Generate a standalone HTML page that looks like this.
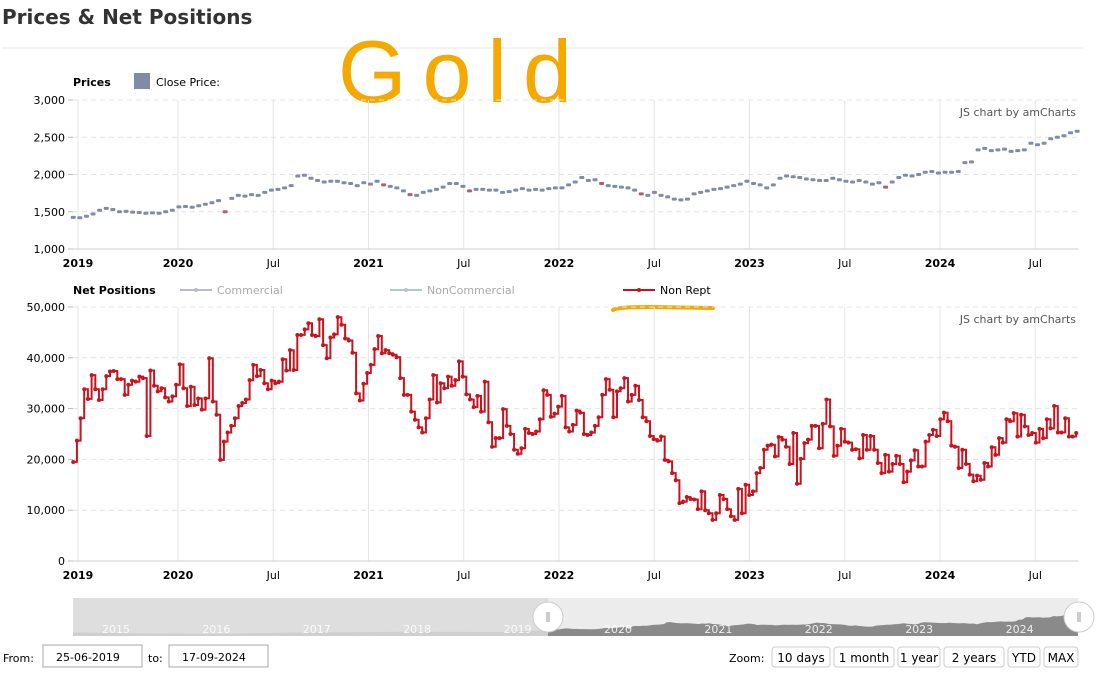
<!DOCTYPE html>
<html><head><meta charset="utf-8"><style>
body{margin:0;background:#fff;font-family:"Liberation Sans","DejaVu Sans",sans-serif;}
svg{display:block}
.t{font-family:"DejaVu Sans","Liberation Sans",sans-serif;font-size:11px;fill:#000}
.b{font-weight:bold}
</style></head><body>
<svg id="s" width="1096" height="673" viewBox="0 0 1096 673" xmlns="http://www.w3.org/2000/svg">
<text x="2" y="24" font-family="DejaVu Sans, Liberation Sans, sans-serif" font-weight="bold" font-size="20" fill="#333">Prices &amp; Net Positions</text>
<line x1="2" y1="48" x2="1084" y2="48" stroke="#e8e8e8"/>
<text x="338" y="102" font-family="Liberation Sans, sans-serif" font-size="88" fill="#f5a800" letter-spacing="16">Gold</text>
<text class="t b" x="73" y="86">Prices</text>
<rect x="134" y="73" width="16" height="16" fill="#7f8ba7"/>
<text class="t" x="156" y="86">Close Price:</text>
<g id="topg"></g>
<text class="t b" x="73" y="294">Net Positions</text>
<g><line x1="180" y1="290" x2="212" y2="290" stroke="#b7bcc6" stroke-width="2"/><circle cx="196" cy="290" r="2" fill="#b7bcc6"/><text class="t" x="217" y="294" style="fill:#aaa">Commercial</text></g>
<g><line x1="390" y1="290" x2="422" y2="290" stroke="#b7c6c6" stroke-width="2"/><circle cx="406" cy="290" r="2" fill="#b7c6c6"/><text class="t" x="427" y="294" style="fill:#aaa">NonCommercial</text></g>
<g><line x1="623" y1="290" x2="655" y2="290" stroke="#c0141e" stroke-width="2"/><circle cx="639" cy="290" r="2" fill="#c0141e"/><text class="t" x="660" y="294">Non Rept</text></g>
<path d="M613 310 Q618 307 650 307 L713 308" stroke="#f5a800" stroke-width="4" fill="none" stroke-linecap="round"/>
<g id="botg"></g>
<g id="scroll"></g>
<text class="t" x="3" y="662" font-size="12">From:</text>
<rect x="43" y="645" width="99" height="22" fill="#fff" stroke="#aaa"/>
<text class="t" x="56" y="661" font-size="12">25-06-2019</text>
<text class="t" x="148" y="662" font-size="12">to:</text>
<rect x="169" y="645" width="99" height="22" fill="#fff" stroke="#aaa"/>
<text class="t" x="182" y="661" font-size="12">17-09-2024</text>
<text class="t" x="729" y="662" font-size="12">Zoom:</text>
<g id="btns"></g>
</svg>
<script>
// ---- data ----
const yearLabels=["2019","2020","Jul","2021","Jul","2022","Jul","2023","Jul","2024","Jul"];
const yearTickDates=[2019.475,2020,2020.5,2021,2021.5,2022,2022.5,2023,2023.5,2024,2024.5];
const boldTick=[1,1,0,1,0,1,0,1,0,1,0];
const priceTicks=[1000,1500,2000,2500,3000];
const netTicks=[0,10000,20000,30000,40000,50000];
const priceStart=2019.45, priceEnd=2024.72;
const closePrice=[1425,1420,1440,1470,1520,1545,1530,1500,1505,1495,1490,1480,1485,1480,1500,1520,1565,1570,1560,1580,1600,1620,1650,1500,1680,1720,1710,1730,1720,1760,1790,1800,1820,1850,1980,1990,1950,1920,1900,1910,1910,1890,1880,1850,1890,1870,1910,1860,1840,1820,1780,1730,1720,1760,1780,1800,1830,1880,1880,1840,1780,1800,1800,1790,1790,1760,1770,1790,1810,1790,1800,1790,1810,1820,1820,1860,1900,1960,1920,1930,1880,1850,1840,1830,1820,1790,1740,1720,1760,1720,1700,1670,1660,1670,1740,1760,1780,1800,1810,1830,1850,1870,1910,1880,1860,1820,1860,1950,1980,1970,1960,1940,1930,1920,1920,1950,1930,1910,1900,1920,1900,1870,1890,1830,1900,1960,1990,1980,2000,2030,2040,2020,2030,2030,2040,2160,2170,2330,2350,2320,2330,2340,2310,2320,2330,2420,2400,2420,2480,2500,2520,2560,2580];
const netStart=2019.45, netEnd=2024.715;
const nonRept=[19.5,23.7,28.1,33.8,31.9,36.6,33.8,31.7,33.8,36.4,37.3,37.4,35.8,35.8,32.7,34.7,35.5,35.3,36.3,36.0,24.6,37.5,34.5,33.4,34.0,32.2,31.4,32.4,34.7,38.7,34.0,30.5,34.3,30.7,32.0,29.8,32.0,39.9,31.4,28.8,19.9,23.5,25.3,26.6,28.1,30.5,31.1,31.8,35.6,38.6,36.4,37.6,35.0,33.8,35.5,35.0,35.3,39.7,37.5,41.5,37.6,44.5,44.5,45.6,46.8,44.5,44.3,47.6,42.5,39.9,44.0,44.6,48.0,46.5,43.8,43.4,41.0,33.0,31.6,34.9,37.0,38.6,41.7,44.3,40.9,41.5,40.9,40.6,40.1,36.0,32.7,32.7,29.4,27.8,26.3,25.3,28.1,31.8,36.6,31.2,35.0,34.0,36.3,34.5,35.6,39.3,36.3,32.8,31.8,30.3,32.5,29.4,35.3,27.3,22.5,24.2,24.2,29.9,26.6,25.0,21.9,21.1,22.2,26.0,25.2,25.0,25.5,27.9,33.6,32.7,28.4,29.0,30.4,32.5,26.3,25.5,26.8,29.6,29.2,25.0,24.8,25.3,26.6,28.3,32.7,35.8,33.7,28.3,33.4,34.0,36.0,31.4,32.7,34.5,31.7,28.3,27.5,24.6,24.0,23.7,24.5,19.9,19.6,17.3,15.9,11.4,11.7,12.6,12.2,12.1,10.2,13.7,10.0,9.4,8.1,9.4,13.0,12.2,10.2,8.8,8.1,14.2,9.4,15.0,13.0,13.7,17.3,18.3,21.9,22.7,22.9,20.6,24.4,23.9,22.5,19.1,25.2,15.2,20.1,23.2,23.9,26.6,26.6,22.2,27.0,31.8,26.5,20.7,22.7,26.0,23.5,23.3,21.9,22.0,20.2,24.8,21.9,24.6,21.9,19.3,17.3,20.9,17.6,19.1,20.7,19.1,15.5,17.6,19.8,21.8,18.6,18.6,23.5,24.8,25.8,24.6,27.9,29.2,27.5,22.7,22.5,18.3,21.9,19.1,17.0,15.7,16.8,16.0,19.3,18.6,22.4,20.9,24.2,23.3,27.9,27.5,29.1,24.5,28.8,26.5,24.8,25.2,23.3,26.0,24.2,27.9,26.1,30.5,25.3,25.3,28.1,24.5,24.5,25.2];
const scrollYears=["2015","2016","2017","2018","2019","2020","2021","2022","2023","2024"];
const zoomButtons=["10 days","1 month","1 year","2 years","YTD","MAX"];

(function(){
const NS="http://www.w3.org/2000/svg";
const svg=document.getElementById('s');
function mk(tag,attrs,parent){const e=document.createElementNS(NS,tag);for(const k in attrs)e.setAttribute(k,attrs[k]);(parent||svg).appendChild(e);return e;}
const X0=73,X1=1078;
const xS=d=>178+(d-2020)*190.5;
const yP=v=>249-(v-1000)*(149/2000);
const yN=v=>561-v*(254/50000);
const fmt=v=>v.toLocaleString('en-US');

function panel(g,yf,ticks,t0,b0){
  ticks.forEach(t=>{const y=yf(t);
    const l=mk('line',{x1:X0,x2:X1,y1:y,y2:y,stroke:'#e4e4e4','stroke-dasharray':'5,4'},g);
    
    
    mk('line',{x1:X0-5,x2:X0,y1:y,y2:y,stroke:'#bbb'},g);
    const tx=mk('text',{x:X0-8,y:y+4,'text-anchor':'end',class:'t'},g);tx.textContent=fmt(t);
    
    
  });
  yearTickDates.forEach((d,i)=>{const x=xS(d);
    const l=mk('line',{x1:x,x2:x,y1:t0,y2:b0,stroke:'#e6e6e6'},g);
    
    
    const tx=mk('text',{x:x,y:b0+18,'text-anchor':'middle',class:'t'+(boldTick[i]?' b':'')},g);tx.textContent=yearLabels[i];
    
    
  });
  mk('line',{x1:X0,x2:X1,y1:b0,y2:b0,stroke:'#ccc'},g);
  const c=mk('text',{x:1076,y:t0+16,'text-anchor':'end',class:'t',style:'fill:#555'},g);c.textContent='JS chart by amCharts';
  
  
}
const tg=document.getElementById('topg'),bg0=document.getElementById('botg');
panel(tg,yP,priceTicks,100,249);
panel(bg0,yN,netTicks,307,561);

closePrice.forEach((v,i)=>{
  const d=priceStart+(priceEnd-priceStart)*i/(closePrice.length-1);
  const c=mk('rect',{x:xS(d)-2.5,y:yP(v)-1.5,width:5,height:3,rx:1,fill:(i>0&&v<closePrice[i-1]-40)?'#b06070':'#7f8ba7'},tg);
  
  
});

let p='';
const pts=nonRept.map((v,i)=>[xS(netStart+(netEnd-netStart)*i/(nonRept.length-1)),yN(v*1000)]);
pts.forEach((q,i)=>{p+= i?`H${q[0].toFixed(1)}V${q[1].toFixed(1)}`:`M${q[0].toFixed(1)},${q[1].toFixed(1)}`;});
const ln=mk('path',{d:p,fill:'none',stroke:'#c8141e','stroke-width':2},bg0);


pts.forEach(q=>{const c=mk('circle',{cx:q[0],cy:q[1],r:2,fill:'#c8141e'},bg0);
  
  });

const sc=document.getElementById('scroll');
const SY0=598,SY1=636,SEL=548;
const r1=mk('rect',{x:X0,y:SY0,width:X1-X0,height:SY1-SY0,fill:'#dedede'},sc);


const r2=mk('rect',{x:SEL,y:SY0,width:X1-SEL,height:SY1-SY0,fill:'#ececec'},sc);


const sx=d=>102+(d-2015)*100.4;
const sy=v=>SY1-(v-1000)*0.014;
let a=`M${X0},${SY1}L${X0},${sy(1250)}L${sx(2016)},${sy(1150)}L${sx(2017)},${sy(1250)}L${sx(2018)},${sy(1300)}L${sx(2019)},${sy(1290)}`;
closePrice.forEach((v,i)=>{const d=priceStart+(priceEnd-priceStart)*i/(closePrice.length-1);a+=`L${sx(d).toFixed(1)},${sy(v).toFixed(1)}`;});
a+=`L${X1},${SY1}Z`;
mk('path',{d:a,fill:'#cfcfcf'},sc);
const defs=mk('defs',{},sc);
const cp=mk('clipPath',{id:'cp'},defs);
mk('rect',{x:SEL,y:SY0,width:X1-SEL,height:40},cp);
mk('path',{d:a,fill:'#8a8a8a','clip-path':'url(#cp)'},sc);
scrollYears.forEach((y,i)=>{const t=mk('text',{x:sx(2015+i),y:633,class:'t',style:'fill:#fff;font-size:11px','fill-opacity':0.85},sc);t.textContent=y;
  
  });
[SEL,X1+1].forEach(x=>{const h=mk('circle',{cx:x,cy:617,r:15,fill:'#fff',stroke:'#ccc'},sc);
  
  
  mk('line',{x1:x-1,x2:x-1,y1:612,y2:622,stroke:'#999'},sc);mk('line',{x1:x+1,x2:x+1,y1:612,y2:622,stroke:'#999'},sc);});

const bgb=document.getElementById('btns');
const bw=[58,60,42,60,32,34];let bx=772;
zoomButtons.forEach((b,i)=>{
  const r=mk('rect',{x:bx,y:647,width:bw[i],height:20,rx:3,fill:'#fff',stroke:'#ccc'},bgb);
  
  
  const t=mk('text',{x:bx+bw[i]/2,y:662,'text-anchor':'middle',class:'t',style:'font-size:12px'},bgb);t.textContent=b;
  bx+=bw[i]+4;
});
})();
</script>
</body></html>
